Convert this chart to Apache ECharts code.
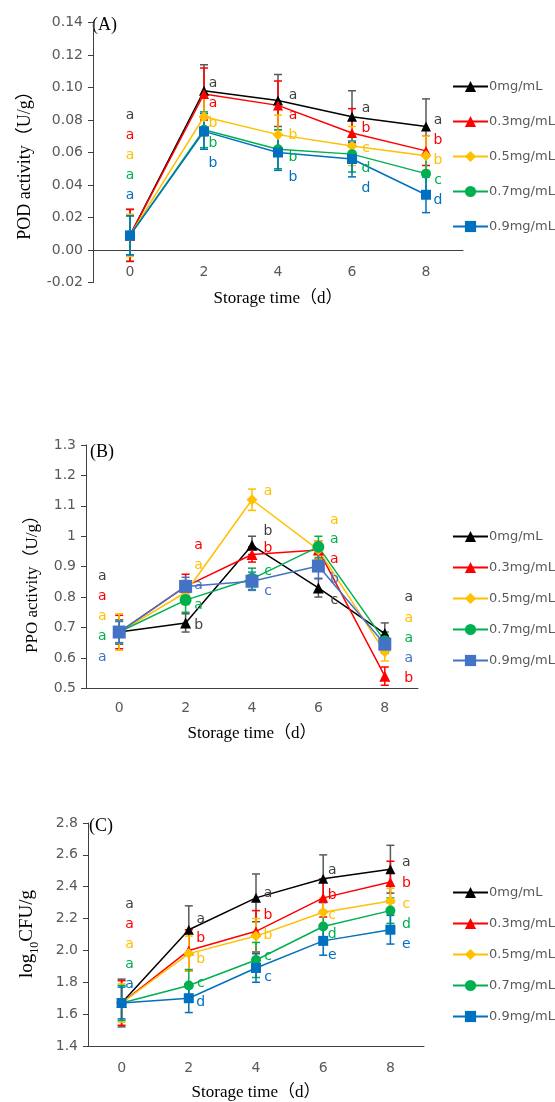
<!DOCTYPE html>
<html>
<head>
<meta charset="utf-8">
<script src="https://cdn.jsdelivr.net/npm/echarts@6/dist/echarts.min.js"></script>
<style>
  html, body { margin: 0; padding: 0; background: #fff; }
  #main { width: 555px; height: 1102px; }
</style>
</head>
<body>
<div id="main"></div>
<script>
// 横坐标：贮藏时间 (d)
var days = ['0', '2', '4', '6', '8'];
var groups = ['0mg/mL', '0.3mg/mL', '0.5mg/mL', '0.7mg/mL', '0.9mg/mL'];

// (A) POD activity
var podMean = [
  [0.009, 0.098, 0.092, 0.082, 0.076],
  [0.009, 0.096, 0.089, 0.072, 0.061],
  [0.009, 0.082, 0.071, 0.064, 0.058],
  [0.009, 0.074, 0.062, 0.059, 0.047],
  [0.009, 0.073, 0.060, 0.056, 0.034]
];
var podErr = [
  [0.016, 0.016, 0.016, 0.016, 0.017],
  [0.016, 0.016, 0.015, 0.015, 0.009],
  [0.013, 0.012, 0.012, 0.012, 0.012],
  [0.012, 0.011, 0.012, 0.011, 0.012],
  [0.012, 0.011, 0.011, 0.011, 0.011]
];
var podLetters = [
  ['a', 'a', 'a', 'a', 'a'],
  ['a', 'a', 'a', 'b', 'b'],
  ['a', 'b', 'b', 'c', 'b'],
  ['a', 'b', 'b', 'd', 'c'],
  ['a', 'b', 'b', 'd', 'd']
];
var podLetterAt = [
  [0.0829, 0.1028, 0.0952, 0.0870, 0.0798],
  [0.0705, 0.0905, 0.0829, 0.0747, 0.0675],
  [0.0582, 0.0781, 0.0705, 0.0623, 0.0551],
  [0.0459, 0.0658, 0.0572, 0.0500, 0.0428],
  [0.0335, 0.0535, 0.0448, 0.0377, 0.0304]
];

// (B) PPO activity
var ppoMean = [
  [0.685, 0.715, 0.970, 0.830, 0.680],
  [0.685, 0.835, 0.940, 0.955, 0.540],
  [0.685, 0.815, 1.120, 0.955, 0.620],
  [0.685, 0.790, 0.860, 0.965, 0.655],
  [0.685, 0.835, 0.852, 0.902, 0.645]
];
var ppoErr = [
  [0.040, 0.030, 0.030, 0.030, 0.035],
  [0.055, 0.040, 0.025, 0.030, 0.030],
  [0.060, 0.040, 0.035, 0.030, 0.030],
  [0.035, 0.040, 0.035, 0.035, 0.030],
  [0.035, 0.030, 0.030, 0.040, 0.030]
];
var ppoLetters = [
  ['a', 'b', 'b', 'c', 'a'],
  ['a', 'a', 'b', 'a', 'b'],
  ['a', 'a', 'a', 'a', 'a'],
  ['a', 'a', 'c', 'a', 'a'],
  ['a', 'a', 'c', 'b', 'a']
];
var ppoLetterAt = [
  [0.867, 0.708, 1.017, 0.790, 0.798],
  [0.801, 0.969, 0.960, 0.924, 0.533],
  [0.735, 0.905, 1.149, 1.053, 0.730],
  [0.670, 0.774, 0.883, 0.990, 0.664],
  [0.601, 0.837, 0.818, 0.858, 0.599]
];

// (C) log10 CFU/g
var cfuMean = [
  [1.67, 2.13, 2.33, 2.45, 2.51],
  [1.67, 2.00, 2.12, 2.33, 2.43],
  [1.67, 1.98, 2.09, 2.24, 2.31],
  [1.67, 1.78, 1.94, 2.15, 2.25],
  [1.67, 1.70, 1.89, 2.06, 2.13]
];
var cfuErr = [
  [0.15, 0.15, 0.15, 0.15, 0.15],
  [0.14, 0.13, 0.13, 0.12, 0.13],
  [0.12, 0.11, 0.11, 0.09, 0.08],
  [0.11, 0.10, 0.11, 0.10, 0.08],
  [0.10, 0.09, 0.09, 0.09, 0.09]
];
var cfuLetters = [
  ['a', 'a', 'a', 'a', 'a'],
  ['a', 'b', 'b', 'b', 'b'],
  ['a', 'b', 'b', 'c', 'c'],
  ['a', 'c', 'c', 'd', 'd'],
  ['a', 'd', 'c', 'e', 'e']
];
var cfuLetterAt = [
  [2.291, 2.192, 2.360, 2.501, 2.553],
  [2.165, 2.077, 2.218, 2.345, 2.419],
  [2.040, 1.945, 2.092, 2.220, 2.291],
  [1.914, 1.794, 1.962, 2.098, 2.165],
  [1.788, 1.672, 1.830, 1.972, 2.040]
];

var myChart = echarts.init(document.getElementById('main'));

var serif = '"Liberation Serif", "Times New Roman", "Noto Sans CJK SC", serif';
var sans = '"DejaVu Sans", sans-serif';
var symbols = ['triangle', 'triangle', 'diamond', 'circle', 'rect'];

var panels = [
  {
    key: 'A', mean: podMean, err: podErr, letters: podLetters, letterAt: podLetterAt,
    colors: ['#000000', '#FF0000', '#FFC000', '#00B050', '#0070C0'],
    sizes: [10, 10, 11, 10, 10],
    grid: {left: 93, top: 22.5, width: 370, height: 260},
    min: -0.02, max: 0.14, interval: 0.02, digits: 2, fixed: true,
    xOffset: -32.5, labelMargin: 15, nameGap: 40,
    letterDx: [0, 9, 15, 14, 12],
    legendTop: 75, legendGap: 22
  },
  {
    key: 'B', mean: ppoMean, err: ppoErr, letters: ppoLetters, letterAt: ppoLetterAt,
    colors: ['#000000', '#FF0000', '#FFC000', '#00B050', '#4472C4'],
    sizes: [11, 11, 11, 12, 13],
    grid: {left: 86, top: 445, width: 332, height: 243.3},
    min: 0.5, max: 1.3, interval: 0.1, digits: 1, fixed: false,
    xOffset: 0, labelMargin: 13, nameGap: 37,
    letterDx: [-17, 13, 16, 16, 24],
    legendTop: 525, legendGap: 18
  },
  {
    key: 'C', mean: cfuMean, err: cfuErr, letters: cfuLetters, letterAt: cfuLetterAt,
    colors: ['#000000', '#FF0000', '#FFC000', '#00B050', '#0070C0'],
    sizes: [10, 10, 11, 10, 10],
    grid: {left: 88, top: 823, width: 336, height: 223},
    min: 1.4, max: 2.8, interval: 0.2, digits: 1, fixed: true,
    xOffset: 0, labelMargin: 15, nameGap: 38,
    letterDx: [8, 12, 12, 9, 16],
    legendTop: 881, legendGap: 18
  }
];

var grids = [], xAxes = [], yAxes = [], legends = [], series = [];

panels.forEach(function (p, pi) {
  grids.push(p.grid);

  // A 图的横轴放在 0 处
  xAxes.push({
    type: 'category',
    gridIndex: pi,
    data: days,
    boundaryGap: true,
    offset: p.xOffset,
    name: 'Storage time（d）',
    nameLocation: 'middle',
    nameGap: p.nameGap,
    nameTextStyle: {fontFamily: serif, fontSize: 17, color: '#000'},
    axisLine: {onZero: false, lineStyle: {color: '#404040', width: 1}},
    axisTick: {length: 5, lineStyle: {color: '#404040'}},
    axisLabel: {fontFamily: sans, fontSize: 14, color: '#595959', margin: p.labelMargin},
    splitLine: {show: false}
  });

  yAxes.push({
    type: 'value',
    gridIndex: pi,
    min: p.min,
    max: p.max,
    interval: p.interval,
    axisLine: {show: true, lineStyle: {color: '#404040', width: 1}},
    axisTick: {show: true, length: 5, lineStyle: {color: '#404040'}},
    axisLabel: {
      fontFamily: sans, fontSize: 14, color: '#595959', margin: 10,
      formatter: (function (pp) {
        return function (v) {
          return pp.fixed ? v.toFixed(pp.digits) : String(+v.toFixed(pp.digits));
        };
      })(p)
    },
    splitLine: {show: false}
  });

  var legendNames = [];

  groups.forEach(function (g, gi) {
    var color = p.colors[gi];
    var name = p.key + '|' + g;
    legendNames.push(name);

    // 误差线
    series.push({
      type: 'custom',
      name: p.key + '-err-' + gi,
      xAxisIndex: pi,
      yAxisIndex: pi,
      silent: true,
      z: 3,
      encode: {x: 0, y: [1, 2]},
      data: p.mean[gi].map(function (m, i) {
        return [i, m - p.err[gi][i], m + p.err[gi][i]];
      }),
      renderItem: function (params, api) {
        var lo = api.coord([api.value(0), api.value(1)]);
        var hi = api.coord([api.value(0), api.value(2)]);
        var w = 4;
        var st = {stroke: gi === 0 ? '#595959' : color, lineWidth: 1.5};
        return {
          type: 'group',
          children: [
            {type: 'line', shape: {x1: hi[0], y1: hi[1], x2: lo[0], y2: lo[1]}, style: st},
            {type: 'line', shape: {x1: hi[0] - w, y1: hi[1], x2: hi[0] + w, y2: hi[1]}, style: st},
            {type: 'line', shape: {x1: lo[0] - w, y1: lo[1], x2: lo[0] + w, y2: lo[1]}, style: st}
          ]
        };
      }
    });

    series.push({
      type: 'line',
      name: name,
      xAxisIndex: pi,
      yAxisIndex: pi,
      data: p.mean[gi],
      symbol: symbols[gi],
      symbolSize: p.sizes[gi],
      showAllSymbol: true,
      z: 4,
      color: color,
      lineStyle: {color: color, width: 1.5},
      itemStyle: {color: color},
      emphasis: {disabled: true}
    });

    // 显著性字母
    series.push({
      type: 'custom',
      name: p.key + '-let-' + gi,
      xAxisIndex: pi,
      yAxisIndex: pi,
      silent: true,
      z: 5,
      encode: {x: 0, y: 1},
      data: p.letterAt[gi].map(function (v, i) { return [i, v]; }),
      renderItem: function (params, api) {
        var i = api.value(0);
        var pt = api.coord([i, api.value(1)]);
        return {
          type: 'text',
          x: pt[0] + p.letterDx[i],
          y: pt[1],
          style: {
            text: p.letters[gi][params.dataIndex],
            fill: gi === 0 ? '#404040' : color,
            font: '14px ' + sans,
            align: 'center',
            verticalAlign: 'middle',
            textAlign: 'center',
            textVerticalAlign: 'middle'
          }
        };
      }
    });
  });

  legends.push({
    data: legendNames,
    orient: 'vertical',
    left: 447,
    top: p.legendTop,
    itemWidth: 35,
    itemHeight: 14,
    itemGap: p.legendGap,
    selectedMode: false,
    formatter: function (n) { return n.split('|')[1]; },
    textStyle: {fontFamily: sans, fontSize: 13, color: '#595959', padding: [0, 0, 0, -4]}
  });
});

var option = {
  backgroundColor: '#fff',
  animation: false,
  grid: grids,
  xAxis: xAxes,
  yAxis: yAxes,
  legend: legends,
  series: series,
  graphic: [
    {type: 'text', x: 92, y: 25, style: {text: '(A)', font: '18px ' + serif, fill: '#000', verticalAlign: 'middle', textVerticalAlign: 'middle'}},
    {type: 'text', x: 90, y: 452, style: {text: '(B)', font: '18px ' + serif, fill: '#000', verticalAlign: 'middle', textVerticalAlign: 'middle'}},
    {type: 'text', x: 89, y: 826, style: {text: '(C)', font: '18px ' + serif, fill: '#000', verticalAlign: 'middle', textVerticalAlign: 'middle'}},
    {type: 'text', x: 25, y: 161, rotation: Math.PI / 2,
      style: {text: 'POD activity（U/g）', font: '18px ' + serif, fill: '#000', align: 'center', verticalAlign: 'middle', textAlign: 'center', textVerticalAlign: 'middle'}},
    {type: 'text', x: 33, y: 580, rotation: Math.PI / 2,
      style: {text: 'PPO activity（U/g）', font: '17px ' + serif, fill: '#000', align: 'center', verticalAlign: 'middle', textAlign: 'center', textVerticalAlign: 'middle'}},
    {type: 'text', x: 27, y: 934, rotation: Math.PI / 2,
      style: {
        text: '{n|log}{s|10}{n|CFU/g}',
        align: 'center', verticalAlign: 'middle', textAlign: 'center', textVerticalAlign: 'middle',
        rich: {
          n: {fontFamily: serif, fontSize: 19, color: '#000', verticalAlign: 'bottom'},
          s: {fontFamily: serif, fontSize: 12, color: '#000', verticalAlign: 'bottom', padding: [0, 0, -4, 0]}
        }
      }}
  ]
};

myChart.setOption(option);
</script>
</body>
</html>
